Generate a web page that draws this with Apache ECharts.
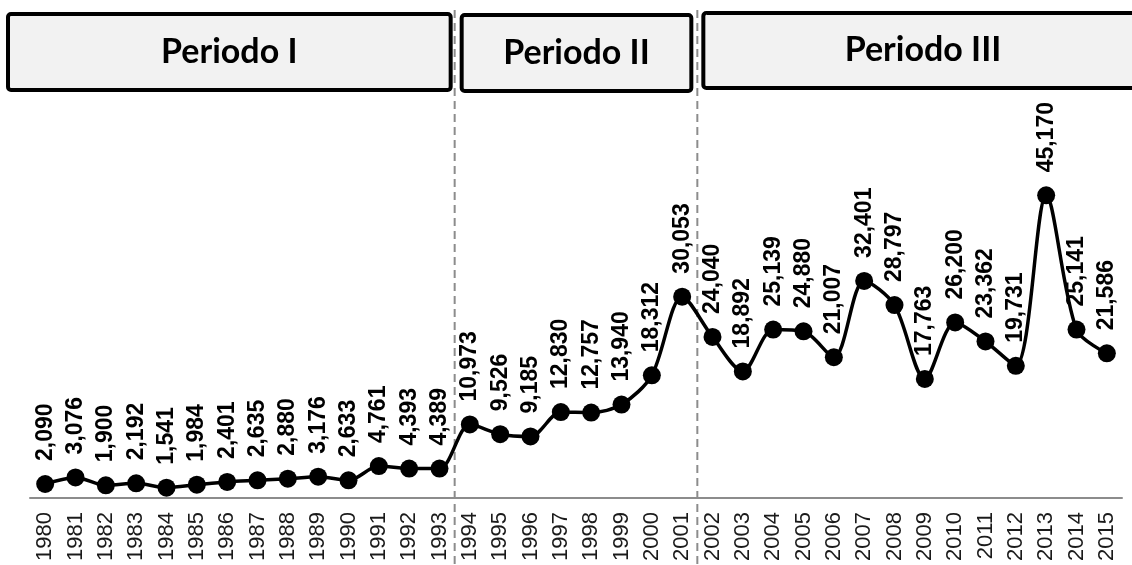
<!DOCTYPE html>
<html>
<head>
<meta charset="utf-8">
<script src="https://cdn.jsdelivr.net/npm/echarts@6/dist/echarts.min.js"></script>
<style>
  html, body { margin: 0; padding: 0; background: #fff; }
  #main { width: 1132px; height: 565px; }
</style>
</head>
<body>
<div id="main"></div>
<script>
var years = ['1980','1981','1982','1983','1984','1985','1986','1987','1988','1989',
  '1990','1991','1992','1993','1994','1995','1996','1997','1998','1999',
  '2000','2001','2002','2003','2004','2005','2006','2007','2008','2009',
  '2010','2011','2012','2013','2014','2015'];
var values = [2090, 3076, 1900, 2192, 1541, 1984, 2401, 2635, 2880, 3176,
  2633, 4761, 4393, 4389, 10973, 9526, 9185, 12830, 12757, 13940,
  18312, 30053, 24040, 18892, 25139, 24880, 21007, 32401, 28797, 17763,
  26200, 23362, 19731, 45170, 25141, 21586];
// periods: names and the index of the first year of each period
var periodNames = ['Periodo I', 'Periodo II', 'Periodo III'];
var periodStarts = [0, 14, 22];

var myChart = echarts.init(document.getElementById('main'));

var option = {
  animation: false,
  grid: { left: 30, right: 10, top: 96, bottom: 67 },
  xAxis: {
    type: 'category',
    data: years,
    boundaryGap: true,
    axisLine: { lineStyle: { color: '#8c8c8c', width: 2 } },
    axisTick: { length: 8, lineStyle: { color: '#8c8c8c', width: 2 } },
    axisLabel: {
      rotate: 90,
      margin: 14,
      color: '#1a1a1a',
      fontFamily: 'Liberation Sans',
      fontSize: 22,
      interval: 0
    }
  },
  yAxis: {
    type: 'value',
    min: 0,
    max: 60000,
    show: false,
    splitLine: { show: false }
  },
  series: [{
    type: 'line',
    data: values,
    smooth: 0.3,
    symbol: 'circle',
    symbolSize: 18,
    lineStyle: { color: '#000', width: 3.5 },
    itemStyle: { color: '#000' },
    label: {
      show: true,
      position: 'top',
      distance: 14,
      rotate: 90,
      align: 'left',
      verticalAlign: 'middle',
      color: '#000',
      fontFamily: 'Liberation Sans',
      fontWeight: 'bold',
      fontSize: 23,
      formatter: function (p) { return p.value.toLocaleString('en-US'); }
    }
  }]
};
myChart.setOption(option);

// dashed separators between periods and the period boxes on top
function midX(i) {
  var a = myChart.convertToPixel({ xAxisIndex: 0 }, years[i - 1]);
  var b = myChart.convertToPixel({ xAxisIndex: 0 }, years[i]);
  return (a + b) / 2;
}
var sep1 = midX(periodStarts[1]);
var sep2 = midX(periodStarts[2]);

var boxes = [
  { x: 8, w: sep1 - 4 - 8 },
  { x: sep1 + 7, w: sep2 - 6 - (sep1 + 7) },
  { x: sep2 + 6, w: 1140 - (sep2 + 6) }
];
var boxY = [14, 15, 13];
var boxH = [76, 76, 75];

var graphics = [];
[sep1, sep2].forEach(function (x) {
  graphics.push({
    type: 'line',
    shape: { x1: x, y1: 10, x2: x, y2: 565 },
    style: { stroke: '#8c8c8c', lineWidth: 2, lineDash: [8, 5] },
    z: 0
  });
});
boxes.forEach(function (b, i) {
  graphics.push({
    type: 'rect',
    shape: { x: b.x, y: boxY[i], width: b.w, height: boxH[i], r: 3 },
    style: { fill: '#f2f2f2', stroke: '#000', lineWidth: 4 },
    z: 10
  });
  graphics.push({
    type: 'text',
    x: i === 2 ? 923 : b.x + b.w / 2,
    y: boxY[i] + boxH[i] / 2,
    style: {
      text: periodNames[i],
      fill: '#000',
      font: 'bold 34px Lato',
      align: 'center',
      verticalAlign: 'middle'
    },
    z: 11
  });
});
myChart.setOption({ graphic: graphics });
</script>
</body>
</html>
